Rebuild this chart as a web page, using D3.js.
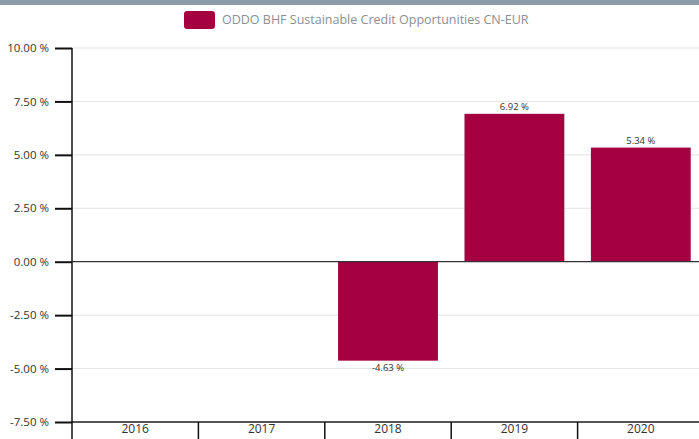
<!DOCTYPE html>
<html><head><meta charset="utf-8">
<script src="https://cdn.jsdelivr.net/npm/d3@7"></script>
<style>body{margin:0;background:#fff;overflow:hidden}svg{display:block}text{font-family:"Open Sans",sans-serif}</style>
</head><body>
<svg id="c" width="699" height="439"></svg>
<script>
const seriesName = "ODDO BHF Sustainable Credit Opportunities CN-EUR";
const categories = ["2016","2017","2018","2019","2020"];
const values = [null, null, -4.63, 6.92, 5.34];
const yTicks = [-7.5, -5, -2.5, 0, 2.5, 5, 7.5, 10];

(function(){
const svg = d3.select("#c");
const W = 699, H = 439;
const mLeft = 72, mRight = 704, mTop = 48, mBottom = 422;
const color = "#a5003f";
const loc = d3.formatLocale({decimal:".", thousands:",", grouping:[3], currency:["",""], minus:"-"});
const fmt = v => loc.format(".2f")(v) + " %";

svg.append("rect").attr("x",0).attr("y",0).attr("width",W).attr("height",5).attr("fill","#8a9aa9");

const x = d3.scaleBand().domain(categories).range([mLeft, mRight]).paddingInner(0.21).paddingOuter(0.105);
const xb = d3.scaleBand().domain(categories).range([mLeft, mRight]);
const y = d3.scaleLinear().domain([-7.5, 10]).range([mBottom, mTop]);

// gridlines
svg.append("g").selectAll("line").data(yTicks.filter(t=>t!==0 && t!==-7.5)).join("line")
  .attr("x1", mLeft).attr("x2", W).attr("y1", d=>y(d)).attr("y2", d=>y(d))
  .attr("stroke","#e3e3e3").attr("stroke-width",1);

// bars
const data = categories.map((c,i)=>({c, v: values[i]})).filter(d=>d.v!==null);
svg.append("g").selectAll("rect").data(data).join("rect")
  .attr("x", d=>x(d.c)).attr("width", x.bandwidth())
  .attr("y", d=>y(Math.max(0,d.v))).attr("height", d=>Math.abs(y(d.v)-y(0)))
  .attr("fill", color);

// zero line
svg.append("line").attr("x1",mLeft).attr("x2",W).attr("y1",y(0)).attr("y2",y(0)).attr("stroke","#333").attr("stroke-width",1.2);

// data labels
svg.append("g").selectAll("text").data(data).join("text")
  .attr("x", d=>x(d.c)+x.bandwidth()/2)
  .attr("y", d=> d.v>=0 ? y(d.v)-4 : y(d.v)+10)
  .attr("text-anchor","middle").attr("font-size",9.5).attr("fill","#333")
  .text(d=>fmt(d.v));

// bottom axis line
svg.append("line").attr("x1",mLeft).attr("x2",W).attr("y1",y(-7.5)).attr("y2",y(-7.5)).attr("stroke","#555").attr("stroke-width",2);

// x axis separators and labels
const xAxis = d3.axisBottom(xb).tickSize(0).tickPadding(0);
const gx = svg.append("g").attr("transform",`translate(0,${mBottom})`).call(xAxis);
gx.select(".domain").remove();
gx.selectAll("text").attr("font-family","'Open Sans',sans-serif").attr("font-size",12).attr("fill","#333").attr("dy","11");
svg.append("g").selectAll("line").data(categories.slice(1)).join("line")
  .attr("x1", d=>xb(d)).attr("x2", d=>xb(d)).attr("y1", mBottom).attr("y2", H)
  .attr("stroke","#111").attr("stroke-width",1.5);

// y axis
const yAxis = d3.axisLeft(y).tickValues(yTicks).tickSize(17).tickPadding(6).tickFormat(fmt);
const gy = svg.append("g").attr("transform",`translate(${mLeft},0)`).call(yAxis);
gy.select(".domain").remove();
gy.selectAll(".tick line").attr("stroke","#111").attr("stroke-width",2);
gy.selectAll("text").attr("font-family","'Open Sans',sans-serif").attr("font-size",11.5).attr("fill","#333");
svg.append("line").attr("x1",mLeft).attr("x2",mLeft).attr("y1",mTop).attr("y2",H).attr("stroke","#111").attr("stroke-width",1.5);

// legend
svg.append("rect").attr("x",184).attr("y",11).attr("width",31).attr("height",18).attr("rx",3).attr("fill",color);
svg.append("text").attr("x",222).attr("y",24).attr("font-size",12.5).attr("fill","#8a8f96").attr("font-family","Lato, sans-serif").text(seriesName);
})();
</script>
</body></html>
